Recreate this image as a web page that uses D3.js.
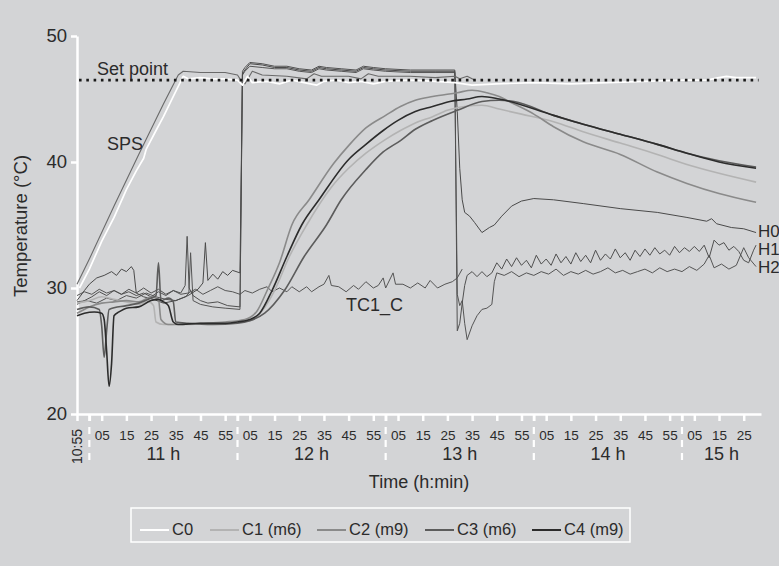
<!DOCTYPE html>
<html>
<head>
<meta charset="utf-8">
<script src="https://cdn.jsdelivr.net/npm/d3@7.9.0/dist/d3.min.js"></script>
<style>
  html, body { margin: 0; padding: 0; background: #d3d4d6; }
  svg { display: block; font-family: "Liberation Sans", Arial, sans-serif; }
</style>
</head>
<body>
<svg id="chart" width="779" height="566"></svg>
<script>
// axis values
const timeDomain = ["10:55", "15:32"];
const yTicks = [20, 30, 40, 50];
const minuteLabels = ["05", "15", "25", "35", "45", "55"];
const hourLabels = ["11 h", "12 h", "13 h", "14 h", "15 h"];
const hourBreaks = ["11:00", "12:00", "13:00", "14:00", "15:00"];
const setPoint = 46.5;

// series: [time, °C]
const c0 = [["10:56",30.0],["11:00",31.5],["11:05",33.7],["11:10",35.6],["11:15",37.8],["11:19",39.3],["11:22",40.3],["11:23",41.0],["11:27",42.5],["11:30",43.6],["11:34",45.2],["11:38",46.8],["11:40",46.6],["11:45",46.7],["11:50",46.6],["11:55",46.6],["12:00",46.5],["12:02",46.1],["12:04",46.8],["12:06",46.3],["12:12",46.4],["12:17",46.2],["12:22",46.5],["12:27",46.3],["12:32",46.1],["12:35",46.4],["12:40",46.5],["12:45",46.3],["12:50",46.4],["12:55",46.2],["13:00",46.4],["13:10",46.5],["13:20",46.4],["13:28",46.3],["13:35",46.1],["13:45",46.2],["14:00",46.3],["14:15",46.2],["14:30",46.3],["14:45",46.4],["15:00",46.5],["15:10",46.5],["15:15",46.7],["15:18",46.8],["15:22",46.7],["15:30",46.7]];

const sps = [["10:55",30.3],["11:00",32.3],["11:10",36.5],["11:20",40.6],["11:30",44.6],["11:36",46.9],["11:38",47.2],["11:45",47.1],["11:55",47.1],["12:00",46.9],["12:01",46.6],["12:03",46.2],["12:06",47.2],["12:10",46.9],["12:20",46.8],["12:28",46.6],["12:31",47.0],["12:34",46.8],["12:45",46.8],["12:50",46.6],["12:53",47.0],["12:57",46.8],["13:10",46.8],["13:20",46.7],["13:28",46.8],["13:30",46.6],["13:33",46.8],["13:36",46.5]];

const c1 = [["10:55",28.8],["11:00",29.0],["11:05",29.3],["11:10",29.1],["11:15",28.9],["11:20",28.7],["11:24",28.9],["11:26",28.6],["11:27",27.3],["11:30",27.1],["11:40",27.1],["11:50",27.2],["12:00",27.3],["12:05",27.4],["12:10",28.2],["12:15",29.8],["12:21",32.5],["12:28",35.0],["12:38",38.0],["12:45",39.5],["12:52",40.7],["13:00",41.8],["13:06",42.5],["13:12",43.1],["13:19",43.6],["13:25",44.1],["13:32",44.4],["13:39",44.5],["13:46",44.2],["13:55",43.8],["14:08",43.2],["14:20",42.4],["14:35",41.5],["14:50",40.6],["15:02",39.8],["15:15",39.1],["15:30",38.4]];

const c2 = [["10:55",28.0],["11:00",28.5],["11:05",28.8],["11:10",28.9],["11:15",29.0],["11:20",28.9],["11:25",29.3],["11:28",29.1],["11:29",27.5],["11:32",27.1],["11:45",27.2],["11:55",27.3],["12:03",27.5],["12:08",28.2],["12:12",29.8],["12:17",32.0],["12:22",35.0],["12:29",37.0],["12:39",39.9],["12:45",41.3],["12:52",42.7],["13:00",43.7],["13:06",44.4],["13:12",44.9],["13:19",45.2],["13:29",45.5],["13:35",45.7],["13:41",45.5],["13:46",45.2],["13:50",44.8],["14:00",43.8],["14:08",42.8],["14:20",41.6],["14:35",40.6],["14:50",39.2],["15:02",38.3],["15:15",37.5],["15:30",36.8]];

const c3 = [["10:55",28.3],["11:00",28.5],["11:04",28.3],["11:05",27.0],["11:06",24.5],["11:07",26.6],["11:08",28.3],["11:15",28.6],["11:20",28.8],["11:25",29.2],["11:27",29.4],["11:28",32.0],["11:29",29.0],["11:32",29.2],["11:34",28.9],["11:35",27.3],["11:40",27.2],["11:50",27.1],["12:00",27.2],["12:05",27.4],["12:11",28.0],["12:19",29.8],["12:27",32.5],["12:36",35.0],["12:42",37.0],["12:52",39.4],["12:59",40.8],["13:06",41.7],["13:12",42.6],["13:19",43.3],["13:29",44.1],["13:39",44.8],["13:46",44.9],["13:52",44.8],["14:08",43.7],["14:20",43.0],["14:35",42.2],["14:50",41.4],["15:02",40.7],["15:15",40.1],["15:30",39.6]];

const c4 = [["10:55",27.8],["10:58",28.0],["11:02",28.1],["11:05",28.0],["11:06",27.5],["11:07",25.0],["11:08",22.2],["11:09",24.0],["11:10",27.8],["11:12",28.1],["11:15",28.4],["11:20",28.5],["11:25",29.0],["11:28",29.1],["11:30",28.9],["11:32",28.6],["11:34",27.3],["11:36",27.1],["11:45",27.2],["11:55",27.2],["12:00",27.3],["12:05",27.5],["12:09",28.0],["12:14",29.8],["12:20",32.5],["12:26",35.0],["12:33",37.0],["12:45",40.2],["12:52",41.4],["12:59",42.5],["13:05",43.3],["13:12",44.0],["13:19",44.4],["13:26",44.8],["13:33",45.0],["13:39",45.2],["13:46",45.0],["14:08",43.7],["14:20",43.0],["14:35",42.2],["14:50",41.4],["15:02",40.7],["15:15",40.0],["15:30",39.5]];

const h0 = [["10:55",29.0],["10:58",29.8],["11:00",30.3],["11:03",30.8],["11:06",31.0],["11:09",31.3],["11:11",31.0],["11:13",31.5],["11:15",31.3],["11:17",31.7],["11:18",31.4],["11:19",29.6],["11:22",29.3],["11:26",29.1],["11:30",28.8],["11:35",29.0],["11:40",29.4],["11:44",29.9],["11:46",30.4],["11:47",33.6],["11:48",30.6],["11:50",31.1],["11:52",30.7],["11:54",31.3],["11:56",31.0],["11:58",31.4],["12:01",31.2],
  ["12:02",47.0],["12:03",47.3],["12:05",47.8],["12:10",47.7],["12:15",47.5],["12:20",47.5],["12:25",47.3],["12:30",47.2],["12:33",47.5],["12:36",47.4],["12:42",47.3],["12:48",47.2],["12:51",47.5],["12:55",47.4],["13:00",47.3],["13:10",47.2],["13:20",47.2],["13:28",47.2],
  ["13:29",44.0],["13:30",39.5],["13:31",37.0],["13:32",36.0],["13:34",35.7],["13:36",35.2],["13:39",34.4],["13:42",34.8],["13:44",35.0],["13:47",35.7],["13:51",36.5],["13:55",36.9],["14:00",37.1],["14:08",37.0],["14:20",36.7],["14:35",36.3],["14:50",36.0],["15:02",35.6],["15:10",35.3],["15:12",35.5],["15:14",35.1],["15:20",34.8],["15:25",34.7],["15:30",34.4]];

const h1 = [["10:55",28.7],["10:58",29.0],["11:01",29.3],["11:04",29.7],["11:07",29.4],["11:10",29.8],["11:13",29.5],["11:16",29.9],["11:19",29.6],["11:22",30.0],["11:25",29.6],["11:28",29.9],["11:31",29.5],["11:34",29.8],["11:37",29.6],["11:38.8",30.2],["11:39.6",34.1],["11:40.4",30.0],["11:42",29.4],["11:45",29.0],["11:48",28.8],["11:52",28.9],["11:56",28.6],["12:01",28.5],
  ["12:02",47.2],["12:03",47.5],["12:05",47.9],["12:10",47.8],["12:15",47.6],["12:20",47.6],["12:25",47.4],["12:30",47.3],["12:33",47.6],["12:36",47.5],["12:42",47.4],["12:48",47.3],["12:51",47.6],["12:55",47.5],["13:00",47.4],["13:10",47.3],["13:20",47.3],["13:28",47.3],
  ["13:29",26.6],["13:30",27.2],["13:31",28.8],["13:32",30.2],["13:33",31.0],["13:35",31.3],["13:37",30.9],["13:39",31.3],["13:41",30.9],["13:43",31.2],["13:45",32.0],["13:47",31.5],["13:49",32.3],["13:51",31.7],["13:53",32.4],["13:55",31.8],["13:57",32.2],["13:59",31.6],["14:01",32.6],["14:03",31.9],["14:05",32.3],["14:07",31.8],["14:09",32.7],["14:11",32.0],["14:13",32.5],["14:15",31.9],["14:17",32.8],["14:19",32.1],["14:21",32.6],["14:23",32.0],["14:25",33.0],["14:27",32.2],["14:29",32.7],["14:31",32.3],["14:33",33.1],["14:35",32.4],["14:37",32.8],["14:39",32.2],["14:41",33.0],["14:43",32.5],["14:45",33.1],["14:47",32.6],["14:49",33.2],["14:51",32.7],["14:53",33.0],["14:55",32.6],["14:57",33.3],["14:59",32.8],["15:01",33.2],["15:03",32.9],["15:05",33.3],["15:07",32.9],["15:09",33.4],["15:11",32.4],["15:13",33.8],["15:15",33.4],["15:17",33.6],["15:19",33.0],["15:21",33.3],["15:23",32.9],["15:25",32.2],["15:27",32.0],["15:29",33.0],["15:30",33.4]];

const h2 = [["10:55",28.9],["10:59",29.0],["11:03",28.8],["11:07",29.2],["11:11",29.0],["11:15",29.4],["11:19",29.2],["11:23",29.6],["11:27",29.3],["11:31",29.1],["11:35",29.0],["11:39",29.3],["11:40.3",29.6],["11:41",32.8],["11:42",29.0],["11:45",28.7],["11:50",28.5],["11:55",28.4],["12:01",28.3],
  ["12:02",46.9],["12:03",47.2],["12:05",47.6],["12:10",47.5],["12:15",47.4],["12:20",47.4],["12:25",47.2],["12:30",47.1],["12:33",47.4],["12:36",47.3],["12:42",47.2],["12:48",47.1],["12:51",47.4],["12:55",47.3],["13:00",47.2],["13:10",47.1],["13:20",47.1],["13:28",47.1],
  ["13:29",29.5],["13:30",28.6],["13:31",29.0],["13:32",27.2],["13:33",25.9],["13:35",27.0],["13:37",27.8],["13:39",28.3],["13:41",28.4],["13:43",28.7],["13:44",30.5],["13:45",31.2],["13:48",31.0],["13:51",31.3],["13:54",30.9],["13:57",31.2],["14:00",31.0],["14:03",31.3],["14:06",31.1],["14:09",31.5],["14:12",31.0],["14:15",31.3],["14:18",31.1],["14:21",31.4],["14:24",31.1],["14:27",31.3],["14:30",31.6],["14:33",31.2],["14:36",31.4],["14:39",31.1],["14:42",31.3],["14:45",31.5],["14:48",31.2],["14:51",31.6],["14:54",31.3],["14:57",31.5],["15:00",31.3],["15:03",31.7],["15:06",31.4],["15:09",31.9],["15:11",32.6],["15:13",31.6],["15:16",31.9],["15:19",31.5],["15:22",31.8],["15:25",33.2],["15:27",32.4],["15:30",31.7]];

const tc1c = [["10:55",29.4],["10:58",29.7],["11:01",29.5],["11:04",29.9],["11:07",29.6],["11:10",29.8],["11:13",29.5],["11:16",29.7],["11:19",29.4],["11:22",29.6],["11:25",29.3],["11:28",29.7],["11:31",29.4],["11:34",29.8],["11:37",29.5],["11:40",29.6],["11:43",29.9],["11:46",29.5],["11:49",29.8],["11:52",30.1],["11:55",29.8],["11:58",29.7],["12:01",29.5],["12:03",29.8],["12:06",29.6],["12:09",29.9],["12:12",30.1],["12:14",29.7],["12:17",30.0],["12:20",29.7],["12:22",30.1],["12:25",29.7],["12:28",30.1],["12:30",29.7],["12:33",30.1],["12:35",30.3],["12:37",31.0],["12:38",30.2],["12:41",30.1],["12:44",29.7],["12:47",30.2],["12:49",29.9],["12:52",30.5],["12:55",30.0],["12:57",30.2],["12:59",30.8],["13:00",30.0],["13:03",31.2],["13:04",30.3],["13:07",30.3],["13:10",30.0],["13:13",30.4],["13:16",30.0],["13:18",30.6],["13:21",30.0],["13:24",30.3],["13:27",30.5],["13:29",30.8],["13:31",31.5]];

const legendNames = ["C0", "C1 (m6)", "C2 (m9)", "C3 (m6)", "C4 (m9)"];
const legendColors = ["#ffffff", "#b3b3b3", "#8a8a8a", "#5c5c5c", "#2c2c2c"];

function toMin(s) {
  const [h, m] = s.split(':');
  return +h * 60 + parseFloat(m);
}

const svg = d3.select('#chart');
const textColor = '#2b2b2b';

const x = d3.scaleLinear().domain(timeDomain.map(toMin)).range([77, 761]);
const y = d3.scaleLinear().domain([20, 50]).range([414, 36]);

// y axis
const yAxis = svg.append('g')
  .attr('transform', 'translate(77,0)')
  .call(d3.axisLeft(y).tickValues(yTicks).tickSize(6).tickSizeOuter(0).tickPadding(4));
yAxis.select('.domain').attr('stroke', '#fff').attr('stroke-width', 2.5);
yAxis.selectAll('.tick line').attr('stroke', '#fff').attr('stroke-width', 2.5);
yAxis.selectAll('.tick text').attr('fill', textColor).style('font-size', '18.5px');

// x axis ticks: 10:55, every hour break and every xx:05 ... xx:55
const xTickTimes = [toMin(timeDomain[0])];
for (let h = 11; h <= 15; h++) {
  xTickTimes.push(h * 60);
  minuteLabels.forEach(m => {
    const t = h * 60 + +m;
    if (t <= toMin(timeDomain[1])) xTickTimes.push(t);
  });
}
const xAxis = svg.append('g')
  .attr('transform', 'translate(0,414)')
  .call(d3.axisBottom(x).tickValues(xTickTimes).tickSize(7).tickSizeOuter(0).tickPadding(9)
    .tickFormat(t => (t % 60 === 0 || t === toMin(timeDomain[0])) ? '' : d3.format('02')(t % 60)));
xAxis.select('.domain').attr('stroke', '#fff').attr('stroke-width', 2.5);
xAxis.selectAll('.tick line').attr('stroke', '#fff').attr('stroke-width', 2.5);
xAxis.selectAll('.tick text').attr('fill', textColor).style('font-size', '13.5px');

// hour separators (dashed)
svg.append('g').selectAll('line')
  .data(hourBreaks)
  .join('line')
  .attr('x1', d => x(toMin(d))).attr('x2', d => x(toMin(d)))
  .attr('y1', 414).attr('y2', 462)
  .attr('stroke', '#fff').attr('stroke-width', 2.2)
  .attr('stroke-dasharray', '7,6');

// first time label, rotated
svg.append('text')
  .attr('transform', `translate(${x(toMin(timeDomain[0])) + 5},429) rotate(-90)`)
  .attr('text-anchor', 'end')
  .attr('fill', textColor)
  .style('font-size', '14px')
  .text(timeDomain[0]);

// hour labels centred over the visible part of each hour
const tMin = toMin(timeDomain[0]), tMax = toMin(timeDomain[1]);
svg.append('g').selectAll('text')
  .data(hourLabels)
  .join('text')
  .attr('x', d => {
    const h = parseInt(d);
    const a = Math.max(tMin, h * 60), b = Math.min(tMax, (h + 1) * 60);
    return x((a + b) / 2);
  })
  .attr('y', 460)
  .attr('text-anchor', 'middle')
  .attr('fill', textColor)
  .style('font-size', '18px')
  .text(d => d);

// axis titles
svg.append('text')
  .attr('x', x((tMin + tMax) / 2))
  .attr('y', 488)
  .attr('text-anchor', 'middle')
  .attr('fill', textColor)
  .style('font-size', '18px')
  .text('Time (h:min)');

svg.append('text')
  .attr('transform', 'translate(27,226) rotate(-90)')
  .attr('text-anchor', 'middle')
  .attr('fill', textColor)
  .style('font-size', '18.5px')
  .text('Temperature (°C)');

// lines
const line = d3.line().x(d => x(toMin(d[0]))).y(d => y(d[1]));
const smooth = d3.line().x(d => x(toMin(d[0]))).y(d => y(d[1])).curve(d3.curveMonotoneX);

const series = [
  { data: tc1c, color: '#555', width: 1, gen: line },
  { data: h2, color: '#555', width: 1, gen: line },
  { data: h1, color: '#505050', width: 1, gen: line },
  { data: h0, color: '#4a4a4a', width: 1, gen: line },
  { data: sps, color: '#6a6a6a', width: 1.1, gen: line },
  { data: c1, color: legendColors[1], width: 1.6, gen: smooth },
  { data: c2, color: legendColors[2], width: 1.6, gen: smooth },
  { data: c3, color: legendColors[3], width: 1.6, gen: smooth },
  { data: c4, color: legendColors[4], width: 1.6, gen: smooth },
  { data: c0, color: legendColors[0], width: 1.7, gen: line }
];

series.forEach(s => {
  svg.append('path')
    .attr('d', s.gen(s.data))
    .attr('fill', 'none')
    .attr('stroke', s.color)
    .attr('stroke-width', s.width)
    .attr('stroke-linejoin', 'round');
});

// set point
svg.append('line')
  .attr('x1', x(tMin) + 2).attr('x2', x(toMin('15:31')))
  .attr('y1', y(setPoint)).attr('y2', y(setPoint))
  .attr('stroke', '#1a1a1a').attr('stroke-width', 2.6)
  .attr('stroke-dasharray', '2.6,4.7');

// inline labels
const labels = [
  { text: 'Set point', x: 97, y: 75, size: 18 },
  { text: 'SPS', x: 107, y: 150, size: 18 },
  { text: 'TC1_C', x: 346, y: 311, size: 18 },
  { text: 'H0', x: 758, y: 237, size: 17 },
  { text: 'H1', x: 758, y: 255, size: 17 },
  { text: 'H2', x: 758, y: 273, size: 17 }
];
svg.append('g').selectAll('text')
  .data(labels)
  .join('text')
  .attr('x', d => d.x).attr('y', d => d.y)
  .attr('fill', textColor)
  .style('font-size', d => d.size + 'px')
  .text(d => d.text);

// legend
const legend = svg.append('g');
legend.append('rect')
  .attr('x', 131).attr('y', 508).attr('width', 499).attr('height', 34)
  .attr('fill', 'none').attr('stroke', '#fff').attr('stroke-width', 1.5);
const legendX = [140, 210, 317, 425, 532];
legendNames.forEach((name, i) => {
  legend.append('line')
    .attr('x1', legendX[i]).attr('x2', legendX[i] + 29)
    .attr('y1', 530).attr('y2', 530)
    .attr('stroke', legendColors[i]).attr('stroke-width', 2);
  legend.append('text')
    .attr('x', legendX[i] + 32).attr('y', 535)
    .attr('fill', textColor)
    .style('font-size', '16.5px')
    .text(name);
});
</script>
</body>
</html>
